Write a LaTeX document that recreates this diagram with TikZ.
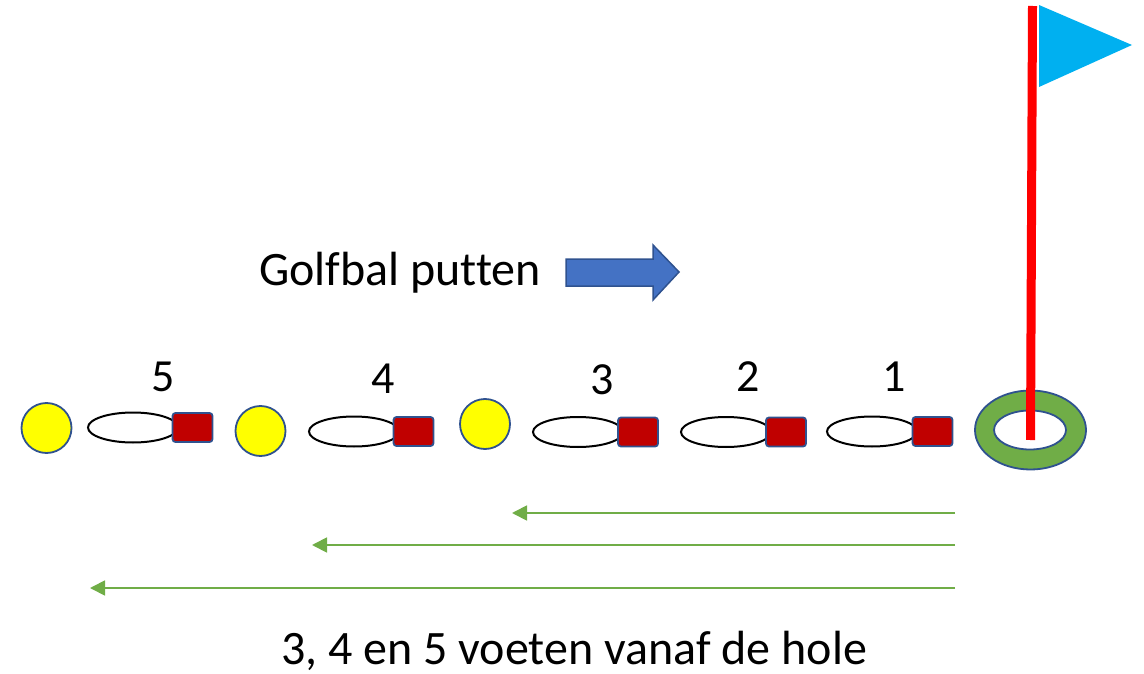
\documentclass[tikz,border=0pt]{standalone}
\usepackage{fontspec}
\setmainfont{Carlito}[Ligatures=NoCommon]
\usetikzlibrary{arrows.meta,shapes.geometric}
\definecolor{ballyellow}{HTML}{FFFF00}
\definecolor{edgeblue}{HTML}{2F528F}
\definecolor{tee}{HTML}{C00000}
\definecolor{grass}{HTML}{70AD47}
\definecolor{arrowblue}{HTML}{4472C4}
\definecolor{flagblue}{HTML}{00B0F0}
\begin{document}
\begin{tikzpicture}[x=1pt,y=-1pt,
  ball/.style={circle,draw=edgeblue,fill=ballyellow,line width=1.8pt,minimum size=50pt,inner sep=0pt},
  club/.style={ellipse,draw=black,line width=2pt,minimum width=90pt,minimum height=30pt,inner sep=0pt},
  head/.style={draw=edgeblue,fill=tee,line width=1.8pt,rounded corners=3pt,minimum width=40pt,minimum height=29pt,inner sep=0pt},
  num/.style={font=\fontsize{46}{48}\selectfont,inner sep=0pt,anchor=base},
  label/.style={font=\fontsize{48}{50}\selectfont,inner sep=0pt},
  dist/.style={draw=grass,line width=1.8pt,-{Triangle[length=15pt,width=15pt]}}]
\useasboundingbox (0,0) rectangle (1144,674);

% balls
\node[ball] (b1) at (46.5,428) {};
\node[ball] (b2) at (260.5,431) {};
\node[ball] (b3) at (485,424) {};

% putters: shaft loop and red head
\foreach \i/\ex/\hx/\y in {5/133/192.5/427.5, 4/354/413.5/431.5, 3/578/638/432, 2/726/786/432, 1/872/932.5/431.5}{
  \node[club] (c\i) at (\ex,\y) {};
  \node[head] (h\i) at (\hx,\y) {};
}

% distance numbers
\node[num] (n5) at (163.5,391) {5};
\node[num] (n4) at (383,393) {4};
\node[num] (n3) at (602.5,394) {3};
\node[num] (n2) at (748,391) {2};
\node[num] (n1) at (894,391) {1};

% title and direction arrow
\node[label,anchor=base west] (title) at (259,285) {Golfbal putten};
\filldraw[draw=edgeblue,fill=arrowblue,line width=1.5pt]
  (566,259) -- (653,259) -- (653,245) -- (679,272) -- (653,300) -- (653,286) -- (566,286) -- cycle;

% hole with flag
\draw[draw=edgeblue,fill=grass,line width=1.8pt,even odd rule]
  (1030.5,430) ellipse [x radius=55.5,y radius=39.5]
  (1030,430) ellipse [x radius=36,y radius=19.5];
\coordinate (hole) at (1030.5,440);
\coordinate (top) at (1032.5,6);
\draw[red,line width=9pt] (hole) -- (top);
\fill[flagblue] (1039,5) -- (1132,45) -- (1039,87) -- cycle;

% distance arrows
\coordinate (s1) at (955,513);
\coordinate (e1) at (512,513);
\coordinate (s2) at (955,545);
\coordinate (e2) at (312,545);
\coordinate (s3) at (955,588);
\coordinate (e3) at (90,588);
\draw[dist] (s1) -- (e1);
\draw[dist] (s2) -- (e2);
\draw[dist] (s3) -- (e3);

\node[label,anchor=base] (caption) at (574,664) {3, 4 en 5 voeten vanaf de hole};
\end{tikzpicture}
\end{document}
